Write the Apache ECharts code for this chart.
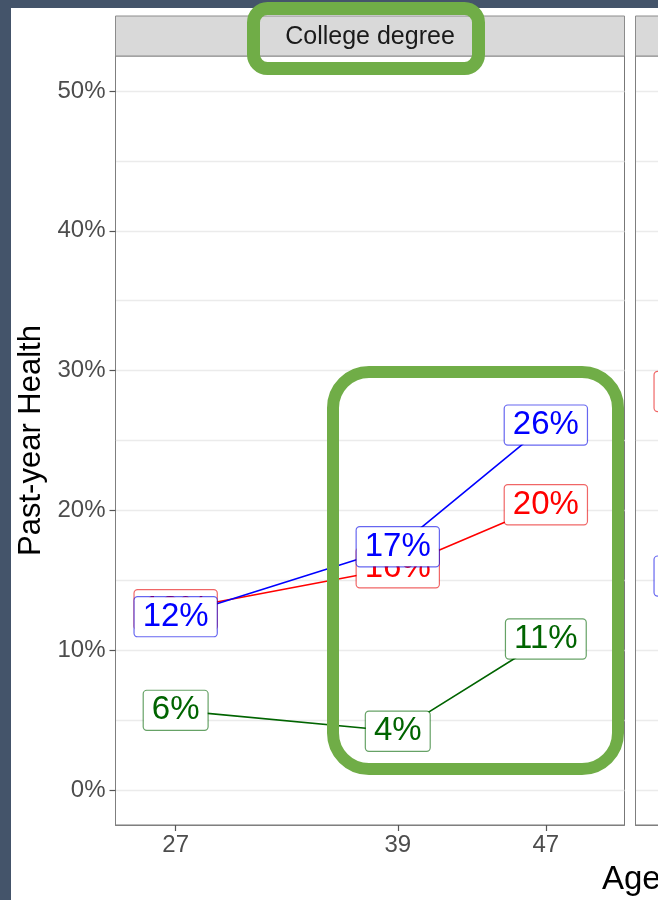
<!DOCTYPE html>
<html>
<head>
<meta charset="utf-8">
<script src="https://cdn.jsdelivr.net/npm/echarts@6/dist/echarts.min.js"></script>
<style>
  html, body { margin: 0; padding: 0; background: #fff; }
  #chart { width: 658px; height: 900px; }
</style>
</head>
<body>
<div id="chart"></div>
<script>
// values (percent)
const ages = [27, 39, 47]
const collegeRed = [12.9, 15.9, 20.4]
const collegeBlue = [12.4, 17.4, 26.1]
const collegeGreen = [5.7, 4.2, 10.8]
// next facet, only its first labels are in the crop
const nextAges = [27]
const nextRed = [28.5]
const nextBlue = [15.3]
const nextGreen = [8.6]
const yTicks = [0, 10, 20, 30, 40, 50]
const yMinor = [5, 15, 25, 35, 45]
const facetNames = ['College degree', '']

const font = 'Liberation Sans, Arial, sans-serif'
const RED = '#ff0000'
const BLUE = '#0000ff'
const GREEN = '#006400'
const EDGE = { '#ff0000': 'rgba(230,0,0,0.6)', '#0000ff': 'rgba(0,0,230,0.6)', '#006400': 'rgba(0,100,0,0.6)' }

// panel geometry
const P1 = { left: 115.5, top: 56, width: 509, height: 769 }
const P2 = { left: 635.5, top: 56, width: 509, height: 769 }
const STRIP_TOP = 16

function pairs (xs, ys) {
  return xs.map((x, i) => [x, ys[i]])
}

function lineSeries (name, xs, ys, color, grid) {
  return {
    name: name,
    type: 'line',
    xAxisIndex: grid,
    yAxisIndex: grid * 2,
    data: pairs(xs, ys),
    symbol: 'none',
    z: 2,
    lineStyle: { color: color, width: 1.6 },
    silent: true
  }
}

function labelSeries (name, xs, ys, color, grid, z) {
  return {
    name: name,
    type: 'scatter',
    xAxisIndex: grid,
    yAxisIndex: grid * 2,
    data: pairs(xs, ys),
    symbolSize: 0,
    z: z,
    silent: true,
    itemStyle: { color: color, opacity: 1 },
    label: {
      show: true,
      position: 'inside',
      formatter: p => Math.round(p.value[1]) + '%',
      color: color,
      opacity: 1,
      fontFamily: font,
      fontSize: 33,
      lineHeight: 33,
      backgroundColor: '#fff',
      borderColor: EDGE[color],
      borderWidth: 1.2,
      borderRadius: 3,
      padding: [3, 8]
    }
  }
}

function xAxisFor (grid) {
  return {
    gridIndex: grid,
    type: 'value',
    min: 23.75,
    max: 51.25,
    axisLine: { show: true, onZero: false, lineStyle: { color: '#7f7f7f', width: 1 } },
    axisTick: { show: true, length: 6, customValues: ages, lineStyle: { color: '#555', width: 1.2 } },
    axisLabel: { customValues: ages, color: '#4d4d4d', fontSize: 24, margin: 8, fontFamily: font },
    splitLine: { show: false }
  }
}

function yAxesFor (grid, withLabels) {
  const major = {
    gridIndex: grid,
    type: 'value',
    min: -2.5,
    max: 52.5,
    axisLine: { show: true, onZero: false, lineStyle: { color: '#7f7f7f', width: 1 } },
    axisTick: { show: withLabels, length: 6, customValues: yTicks, lineStyle: { color: '#555', width: 1.2 } },
    axisLabel: { show: withLabels, customValues: yTicks, formatter: '{value}%', color: '#4d4d4d', fontSize: 24, margin: 10, fontFamily: font },
    splitLine: { show: true, lineStyle: { color: '#ebebeb', width: 1.3 } }
  }
  if (withLabels) {
    major.name = 'Past-year Health'
    major.nameLocation = 'middle'
    major.nameGap = 66
    major.nameTextStyle = { color: '#000', fontSize: 31, fontFamily: font }
  }
  const minor = {
    gridIndex: grid,
    type: 'value',
    position: 'right',
    min: -2.5,
    max: 52.5,
    axisLine: { show: false },
    axisTick: { show: false, customValues: yMinor },
    axisLabel: { show: false },
    splitLine: { show: true, lineStyle: { color: '#ebebeb', width: 1.3 } }
  }
  return [major, minor]
}

function strip (p, text) {
  return [
    {
      type: 'rect',
      z: 1,
      shape: { x: p.left, y: STRIP_TOP, width: p.width, height: p.top - STRIP_TOP },
      style: { fill: '#d9d9d9', stroke: '#8c8c8c', lineWidth: 1 }
    },
    {
      type: 'text',
      z: 2,
      x: p.left + p.width / 2,
      y: (STRIP_TOP + p.top) / 2 + 1,
      style: { text: text, fill: '#1a1a1a', font: '25px ' + font, align: 'center', verticalAlign: 'middle' }
    }
  ]
}

function gridFor (p) {
  return Object.assign({ show: true, borderColor: '#777', borderWidth: 1, outerBoundsMode: 'none', containLabel: false }, p)
}

let myChart = echarts.init(document.getElementById('chart'))
myChart.setOption({
  backgroundColor: '#fff',
  animation: false,
  title: {
    text: 'Age',
    left: 602,
    top: 863,
    padding: 0,
    textStyle: { color: '#000', fontSize: 33, fontWeight: 'normal', fontFamily: font }
  },
  grid: [gridFor(P1), gridFor(P2)],
  xAxis: [xAxisFor(0), xAxisFor(1)],
  yAxis: yAxesFor(0, true).concat(yAxesFor(1, false)),
  series: [
    lineSeries('red', ages, collegeRed, RED, 0),
    lineSeries('blue', ages, collegeBlue, BLUE, 0),
    lineSeries('green', ages, collegeGreen, GREEN, 0),
    labelSeries('red', ages, collegeRed, RED, 0, 3),
    labelSeries('blue', ages, collegeBlue, BLUE, 0, 4),
    labelSeries('green', ages, collegeGreen, GREEN, 0, 3),
    labelSeries('red', nextAges, nextRed, RED, 1, 3),
    labelSeries('blue', nextAges, nextBlue, BLUE, 1, 4),
    labelSeries('green', nextAges, nextGreen, GREEN, 1, 3)
  ],
  graphic: {
    elements: [
      // slide frame
      { type: 'rect', z: 50, shape: { x: 0, y: 0, width: 11, height: 900 }, style: { fill: '#44546a' } },
      { type: 'rect', z: 50, shape: { x: 0, y: 0, width: 658, height: 8 }, style: { fill: '#44546a' } }
    ]
      .concat(strip(P1, facetNames[0]))
      .concat(strip(P2, facetNames[1]))
      .concat([
        // green highlight boxes
        { type: 'rect', z: 100, shape: { x: 253.5, y: 8.5, width: 225, height: 60, r: 14 }, style: { fill: 'none', stroke: '#70ad47', lineWidth: 13 } },
        { type: 'rect', z: 100, shape: { x: 333, y: 372, width: 285, height: 397, r: 36 }, style: { fill: 'none', stroke: '#70ad47', lineWidth: 12 } }
      ])
  }
})
</script>
</body>
</html>
